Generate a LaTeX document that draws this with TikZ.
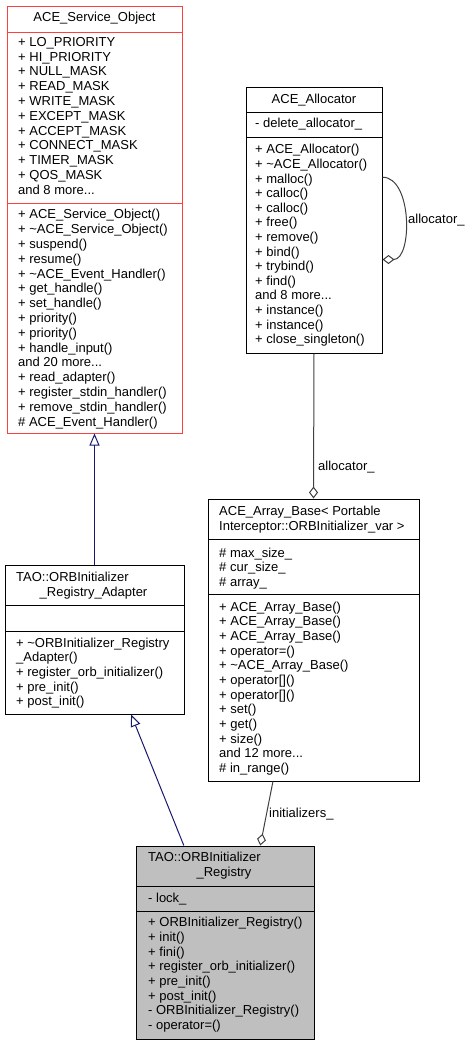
\documentclass[tikz,border=0pt]{standalone}
\usepackage{fontspec}
\setmainfont{Liberation Sans}
\usetikzlibrary{arrows.meta}

\newlength{\du}
\setlength{\du}{1pt}

\definecolor{boxred}{rgb}{1.000000, 0.250000, 0.250000}
\definecolor{inheritblue}{rgb}{0.098039, 0.098039, 0.439216}
\definecolor{usagegray}{rgb}{0.250000, 0.250000, 0.250000}
\definecolor{focusgray}{rgb}{0.749020, 0.749020, 0.749020}

\tikzset{
  classbox/.style={draw=black, fill=white, line width=1\du, inner sep=0pt},
  sepline/.style={draw=black, line width=1\du},
  member/.style={anchor=base west, inner sep=0pt, font=\fontsize{13}{15}\selectfont},
  title/.style={member, anchor=base},
  inherit/.style={draw=inheritblue, line width=1\du, -{Triangle[open, length=12pt, width=10pt]}},
  usage/.style={draw=usagegray, line width=1\du, -{Diamond[open, length=12pt, width=9pt]}},
  edgelabel/.style={member}
}

\begin{document}
\begin{tikzpicture}
\pgftransformxscale{1.000000}
\pgftransformyscale{-1.000000}
\useasboundingbox (0\du,0\du) rectangle (472\du,1045\du);

% ACE_Service_Object
\node[classbox, draw=boxred, minimum width=175\du, minimum height=427\du] (so) at (94.5\du,219.5\du) {};
\draw[sepline, draw=boxred] (7\du,32\du) -- (182\du,32\du);
\draw[sepline, draw=boxred] (7\du,203\du) -- (182\du,203\du);
\node[title] (so-name) at (94.5\du,21.5\du) {ACE\_Service\_Object};
\node[member] (so-a1) at (18\du,46.2\du) {+ LO\_PRIORITY};
\node[member] (so-a2) at (18\du,61.0\du) {+ HI\_PRIORITY};
\node[member] (so-a3) at (18\du,75.8\du) {+ NULL\_MASK};
\node[member] (so-a4) at (18\du,90.6\du) {+ READ\_MASK};
\node[member] (so-a5) at (18\du,105.4\du) {+ WRITE\_MASK};
\node[member] (so-a6) at (18\du,120.2\du) {+ EXCEPT\_MASK};
\node[member] (so-a7) at (18\du,135.0\du) {+ ACCEPT\_MASK};
\node[member] (so-a8) at (18\du,149.8\du) {+ CONNECT\_MASK};
\node[member] (so-a9) at (18\du,164.6\du) {+ TIMER\_MASK};
\node[member] (so-a10) at (18\du,179.4\du) {+ QOS\_MASK};
\node[member] (so-a11) at (18\du,194.2\du) {and 8 more...};
\node[member] (so-m1) at (18\du,218.8\du) {+ ACE\_Service\_Object()};
\node[member] (so-m2) at (18\du,233.6\du) {+ \textasciitilde ACE\_Service\_Object()};
\node[member] (so-m3) at (18\du,248.4\du) {+ suspend()};
\node[member] (so-m4) at (18\du,263.2\du) {+ resume()};
\node[member] (so-m5) at (18\du,278.0\du) {+ \textasciitilde ACE\_Event\_Handler()};
\node[member] (so-m6) at (18\du,292.8\du) {+ get\_handle()};
\node[member] (so-m7) at (18\du,307.6\du) {+ set\_handle()};
\node[member] (so-m8) at (18\du,322.4\du) {+ priority()};
\node[member] (so-m9) at (18\du,337.2\du) {+ priority()};
\node[member] (so-m10) at (18\du,352.0\du) {+ handle\_input()};
\node[member] (so-m11) at (18\du,366.8\du) {and 20 more...};
\node[member] (so-m12) at (18\du,381.6\du) {+ read\_adapter()};
\node[member] (so-m13) at (18\du,396.4\du) {+ register\_stdin\_handler()};
\node[member] (so-m14) at (18\du,411.2\du) {+ remove\_stdin\_handler()};
\node[member] (so-m15) at (18\du,426.0\du) {\# ACE\_Event\_Handler()};

% ACE_Allocator
\node[classbox, minimum width=136\du, minimum height=266\du] (al) at (314\du,220\du) {};
\draw[sepline] (246\du,112\du) -- (382\du,112\du);
\draw[sepline] (246\du,137\du) -- (382\du,137\du);
\node[title] (al-name) at (314\du,103.5\du) {ACE\_Allocator};
\node[member] (al-a1) at (255\du,127.5\du) {- delete\_allocator\_};
\node[member] (al-m1) at (255\du,153.8\du) {+ ACE\_Allocator()};
\node[member] (al-m2) at (255\du,168.4\du) {+ \textasciitilde ACE\_Allocator()};
\node[member] (al-m3) at (255\du,183.0\du) {+ malloc()};
\node[member] (al-m4) at (255\du,197.6\du) {+ calloc()};
\node[member] (al-m5) at (255\du,212.2\du) {+ calloc()};
\node[member] (al-m6) at (255\du,226.8\du) {+ free()};
\node[member] (al-m7) at (255\du,241.4\du) {+ remove()};
\node[member] (al-m8) at (255\du,256.0\du) {+ bind()};
\node[member] (al-m9) at (255\du,270.6\du) {+ trybind()};
\node[member] (al-m10) at (255\du,285.2\du) {+ find()};
\node[member] (al-m11) at (255\du,299.8\du) {and 8 more...};
\node[member] (al-m12) at (255\du,314.4\du) {+ instance()};
\node[member] (al-m13) at (255\du,329.0\du) {+ instance()};
\node[member] (al-m14) at (255\du,343.6\du) {+ close\_singleton()};

% ACE_Array_Base< PortableInterceptor::ORBInitializer_var >
\node[classbox, minimum width=211\du, minimum height=282\du] (ab) at (313.5\du,640\du) {};
\draw[sepline] (208\du,539\du) -- (419\du,539\du);
\draw[sepline] (208\du,594\du) -- (419\du,594\du);
\node[member] (ab-name1) at (219\du,515.5\du) {ACE\_Array\_Base< Portable};
\node[member] (ab-name2) at (219\du,530.5\du) {Interceptor::ORBInitializer\_var >};
\node[member] (ab-a1) at (219\du,557.2\du) {\# max\_size\_};
\node[member] (ab-a2) at (219\du,571.8\du) {\# cur\_size\_};
\node[member] (ab-a3) at (219\du,586.4\du) {\# array\_};
\node[member] (ab-m1) at (219\du,611.2\du) {+ ACE\_Array\_Base()};
\node[member] (ab-m2) at (219\du,625.8\du) {+ ACE\_Array\_Base()};
\node[member] (ab-m3) at (219\du,640.5\du) {+ ACE\_Array\_Base()};
\node[member] (ab-m4) at (219\du,655.1\du) {+ operator=()};
\node[member] (ab-m5) at (219\du,669.8\du) {+ \textasciitilde ACE\_Array\_Base()};
\node[member] (ab-m6) at (219\du,684.4\du) {+ operator[]()};
\node[member] (ab-m7) at (219\du,699.0\du) {+ operator[]()};
\node[member] (ab-m8) at (219\du,713.7\du) {+ set()};
\node[member] (ab-m9) at (219\du,728.3\du) {+ get()};
\node[member] (ab-m10) at (219\du,743.0\du) {+ size()};
\node[member] (ab-m11) at (219\du,757.6\du) {and 12 more...};
\node[member] (ab-m12) at (219\du,772.2\du) {\# in\_range()};

% TAO::ORBInitializer_Registry_Adapter
\node[classbox, minimum width=179\du, minimum height=149\du] (ad) at (94.5\du,639.5\du) {};
\draw[sepline] (5\du,605\du) -- (184\du,605\du);
\draw[sepline] (5\du,631\du) -- (184\du,631\du);
\node[member] (ad-name1) at (16\du,581.5\du) {TAO::ORBInitializer};
\node[title] (ad-name2) at (93.5\du,596.5\du) {\_Registry\_Adapter};
\node[member] (ad-m1) at (16\du,647.2\du) {+ \textasciitilde ORBInitializer\_Registry};
\node[member] (ad-m2) at (16\du,661.8\du) {\_Adapter()};
\node[member] (ad-m3) at (16\du,676.4\du) {+ register\_orb\_initializer()};
\node[member] (ad-m4) at (16\du,691.0\du) {+ pre\_init()};
\node[member] (ad-m5) at (16\du,705.6\du) {+ post\_init()};

% TAO::ORBInitializer_Registry
\node[classbox, fill=focusgray, minimum width=178\du, minimum height=193\du] (rg) at (225\du,942.5\du) {};
\draw[sepline] (136\du,886\du) -- (314\du,886\du);
\draw[sepline] (136\du,911\du) -- (314\du,911\du);
\node[member] (rg-name1) at (148\du,861.5\du) {TAO::ORBInitializer};
\node[title] (rg-name2) at (224\du,876.5\du) {\_Registry};
\node[member] (rg-a1) at (148\du,902.5\du) {- lock\_};
\node[member] (rg-m1) at (148\du,926.8\du) {+ ORBInitializer\_Registry()};
\node[member] (rg-m2) at (148\du,941.5\du) {+ init()};
\node[member] (rg-m3) at (148\du,956.1\du) {+ fini()};
\node[member] (rg-m4) at (148\du,970.8\du) {+ register\_orb\_initializer()};
\node[member] (rg-m5) at (148\du,985.4\du) {+ pre\_init()};
\node[member] (rg-m6) at (148\du,1000.1\du) {+ post\_init()};
\node[member] (rg-m7) at (148\du,1014.8\du) {- ORBInitializer\_Registry()};
\node[member] (rg-m8) at (148\du,1029.4\du) {- operator=()};

% relations
\draw[inherit] (ad.north) -- (so.south);
\draw[inherit] (rg.113.5) -- (ad.-64.5);
\draw[usage] (al.32.3) .. controls +(30\du,0\du) and +(30\du,0\du) .. (al.-30.5);
\node[edgelabel] (al-self) at (408\du,223.5\du) {allocator\_};
\draw[usage] (al.south) -- (ab.north);
\node[edgelabel] (al-ab) at (318\du,470.5\du) {allocator\_};
\draw[usage] (ab.-106.4) -- (rg.70.6);
\node[edgelabel] (ab-rg) at (269\du,817.5\du) {initializers\_};
\end{tikzpicture}
\end{document}
